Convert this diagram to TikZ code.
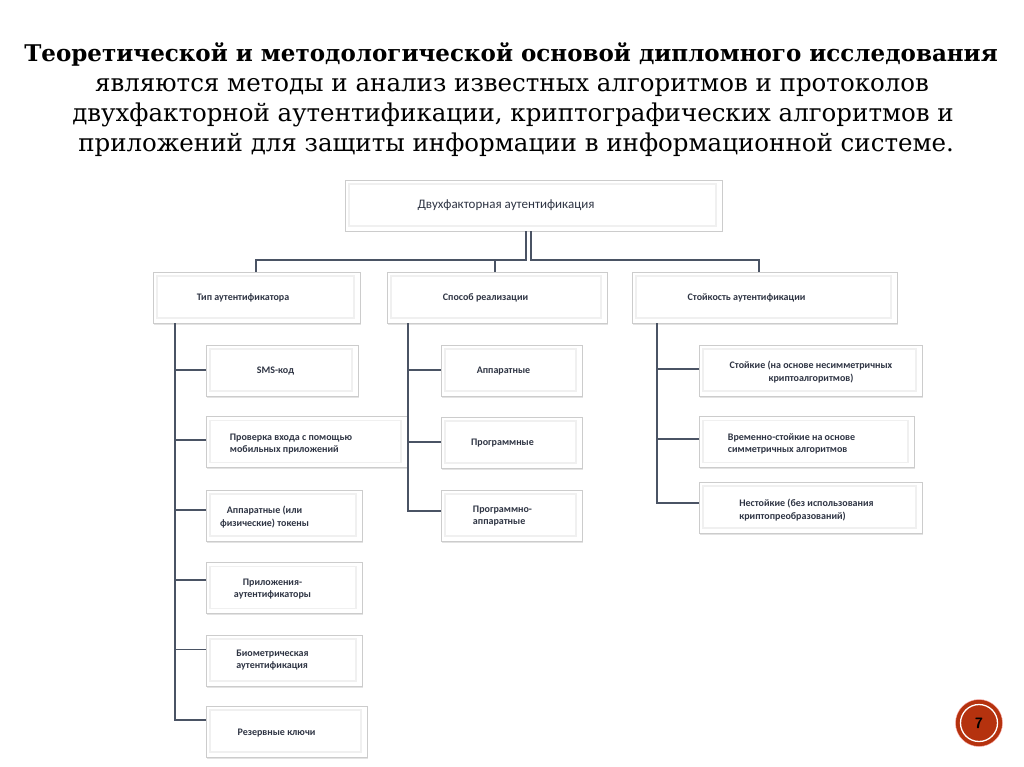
\documentclass[tikz,border=0pt]{standalone}
\usepackage{fontspec}
\setmainfont{DejaVu Serif}
\newfontfamily\boxfont{Carlito}
\usetikzlibrary{shadows}
\definecolor{linecol}{HTML}{4A5364}
\definecolor{txtcol}{HTML}{2F3544}
\definecolor{badge}{HTML}{B5320E}

\tikzset{
  blk/.style={draw=gray!40, fill=white, rectangle, inner sep=0pt,
    minimum height=51pt,
    drop shadow={opacity=0.22, shadow xshift=1pt, shadow yshift=-1.5pt},
    path picture={\draw[gray!12, line width=1.4pt]
      ([shift={(4pt,-4pt)}]path picture bounding box.north west) rectangle
      ([shift={(-6pt,5pt)}]path picture bounding box.south east);}},
  lbl/.style={font=\boxfont\bfseries\fontsize{10}{12.5}\selectfont, text=txtcol, inner sep=0pt},
  conn/.style={draw=linecol, line width=1.4pt},
  ttl/.style={anchor=base, inner sep=0pt, font=\fontsize{24.5}{30}\selectfont}
}

\begin{document}
\begin{tikzpicture}[x=1pt,y=-1pt]
\useasboundingbox (0,0) rectangle (1024,767);
\fill[white] (0,0) rectangle (1024,767);

%% title
\node[ttl, font=\fontsize{23}{30}\selectfont\bfseries] (title1) at (511,62) {Теоретической и методологической основой дипломного исследования};
\node[ttl] (title2) at (512,92) {являются методы и анализ известных алгоритмов и протоколов};
\node[ttl] (title3) at (513,122) {двухфакторной аутентификации, криптографических алгоритмов и};
\node[ttl] (title4) at (516,152) {приложений для защиты информации в информационной системе.};

%% top level
\node[blk, minimum width=377pt] (top) at (533.5,205.5) {};
\node[lbl, font=\boxfont\fontsize{13}{15}\selectfont] (top-t) at (506,205) {Двухфакторная аутентификация};

%% second level
\node[blk, minimum width=207pt] (tip) at (256.5,297.5) {};
\node[lbl] (tip-t) at (243,298) {Тип аутентификатора};
\node[blk, minimum width=220pt] (sposob) at (497,297.5) {};
\node[lbl] (sposob-t) at (485.5,298) {Способ реализации};
\node[blk, minimum width=265pt] (stoik) at (764.5,297.5) {};
\node[lbl] (stoik-t) at (746.5,298) {Стойкость аутентификации};

\coordinate (bus) at (0,260);
\draw[conn] ([xshift=-7.5pt]top.south) -- ([xshift=-7.5pt]top.south |- bus) -| ([xshift=-0.5pt]tip.north);
\draw[conn] ([xshift=-2pt]sposob.north |- bus) -- ([xshift=-2pt]sposob.north);
\draw[conn] ([xshift=-2.5pt]top.south) -- ([xshift=-2.5pt]top.south |- bus) -| ([xshift=-5.5pt]stoik.north);

%% authenticator types
\node[blk, minimum width=152pt] (a1) at (282,370.5) {};
\node[lbl] (a1-t) at (275.5,371) {SMS-код};
\node[blk, minimum width=201pt] (a2) at (306.5,442) {};
\node[lbl, align=left] (a2-t) at (291,444) {Проверка входа с помощью\\мобильных приложений};
\node[blk, minimum width=156pt] (a3) at (284,515.5) {};
\node[lbl, align=center] (a3-t) at (264.5,517) {Аппаратные (или\\физические) токены};
\node[blk, minimum width=156pt] (a4) at (284,588) {};
\node[lbl, align=center] (a4-t) at (272.5,589) {Приложения-\\аутентификаторы};
\node[blk, minimum width=156pt] (a5) at (284,660.5) {};
\node[lbl, align=left] (a5-t) at (272.5,660) {Биометрическая\\аутентификация};
\node[blk, minimum width=161pt] (a6) at (286.5,731.5) {};
\node[lbl] (a6-t) at (276.5,733) {Резервные ключи};

\coordinate (lx) at (175,0);
\draw[conn] ([yshift=11.5pt]a6.west) -| (lx |- tip.south);
\draw[conn] ([yshift=0.5pt]a1.west) -- ([yshift=0.5pt]a1.west -| lx);
\draw[conn] ([yshift=2pt]a2.west) -- ([yshift=2pt]a2.west -| lx);
\draw[conn] ([yshift=5.5pt]a3.west) -- ([yshift=5.5pt]a3.west -| lx);
\draw[conn] ([yshift=8pt]a4.west) -- ([yshift=8pt]a4.west -| lx);
\draw[conn] ([yshift=11pt]a5.west) -- ([yshift=11pt]a5.west -| lx);

%% implementation
\node[blk, minimum width=141pt] (b1) at (511.5,370.5) {};
\node[lbl] (b1-t) at (503.5,371) {Аппаратные};
\node[blk, minimum width=141pt] (b2) at (511.5,442.5) {};
\node[lbl] (b2-t) at (502.5,443) {Программные};
\node[blk, minimum width=141pt] (b3) at (511.5,515.5) {};
\node[lbl, align=left] (b3-t) at (502.5,516) {Программно-\\аппаратные};

\coordinate (mx) at (408,0);
\draw[conn] ([yshift=4.5pt]b3.west) -| (mx |- sposob.south);
\draw[conn] ([yshift=0.5pt]b1.west) -- ([yshift=0.5pt]b1.west -| mx);
\draw[conn] ([yshift=0.5pt]b2.west) -- ([yshift=0.5pt]b2.west -| mx);

%% strength
\node[blk, minimum width=223pt] (c1) at (810.5,370.5) {};
\node[lbl, align=center] (c1-t) at (811,372) {Стойкие (на основе несимметричных\\криптоалгоритмов)};
\node[blk, minimum width=215pt] (c2) at (806.5,442) {};
\node[lbl, align=left] (c2-t) at (791.5,444) {Временно-стойкие на основе\\симметричных алгоритмов};
\node[blk, minimum width=223pt] (c3) at (810.5,507.5) {};
\node[lbl, align=left] (c3-t) at (806.5,510) {Нестойкие (без использования\\криптопреобразований)};

\coordinate (rx) at (657,0);
\draw[conn] ([yshift=4.5pt]c3.west) -| (rx |- stoik.south);
\draw[conn] ([yshift=1.5pt]c1.west) -- ([yshift=1.5pt]c1.west -| rx);
\draw[conn] ([yshift=3pt]c2.west) -- ([yshift=3pt]c2.west -| rx);

%% page number
\node[circle, fill=badge, draw=red!30, minimum size=47pt, inner sep=0pt] (pgbg) at (979,723) {};
\node[circle, fill=badge, draw=white, line width=1.3pt, minimum size=37pt, inner sep=0pt,
  font=\sffamily\bfseries\fontsize{15}{15}\selectfont] (pg) at (979,723) {7};

\end{tikzpicture}
\end{document}
